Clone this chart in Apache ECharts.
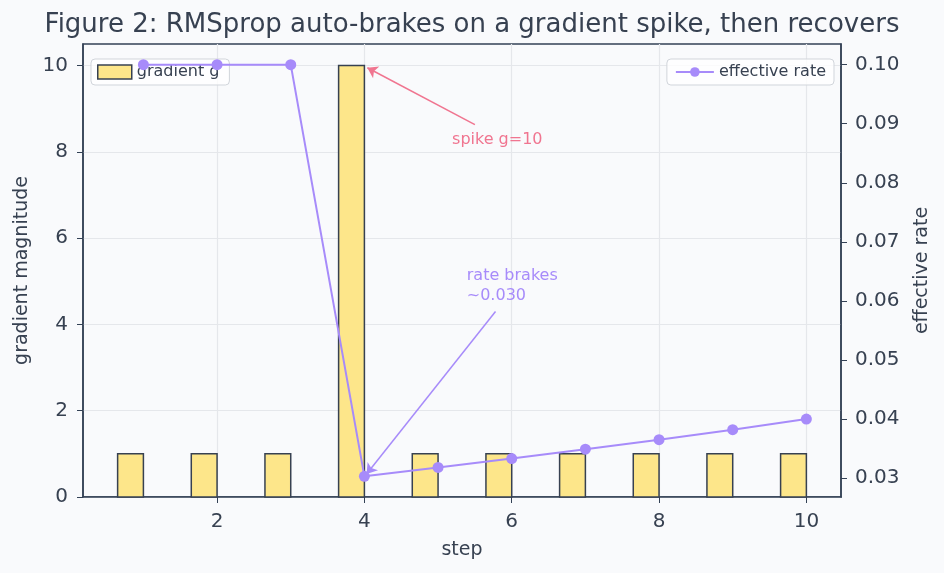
<!DOCTYPE html>
<html>
<head>
<meta charset="utf-8">
<script src="https://cdn.jsdelivr.net/npm/echarts@6/dist/echarts.min.js"></script>
<style>
  html, body { margin: 0; padding: 0; background: #f9fafc; }
  #chart { width: 944px; height: 573px; }
</style>
</head>
<body>
<div id="chart"></div>
<script>
// data
const steps = [1, 2, 3, 4, 5, 6, 7, 8, 9, 10]
const gradient = [1, 1, 1, 10, 1, 1, 1, 1, 1, 1]
const rate = [0.1, 0.1, 0.1, 0.0303, 0.0318, 0.0333, 0.0349, 0.0365, 0.0382, 0.04]
const xTicks = [2, 4, 6, 8, 10]
const gTicks = [0, 2, 4, 6, 8, 10]
const rateTicks = [0.03, 0.04, 0.05, 0.06, 0.07, 0.08, 0.09, 0.1]

const textColor = '#374151'
const axisColor = '#334155'
const gridColor = '#e5e7eb'
const barFill = '#fde68a'
const rateColor = '#a78bfa'
const spikeColor = '#f07590'
const font = 'DejaVu Sans'

const chart = echarts.init(document.getElementById('chart'))

const option = {
  backgroundColor: '#f9fafc',
  textStyle: { fontFamily: font, color: textColor },
  title: {
    text: 'Figure 2: RMSprop auto-brakes on a gradient spike, then recovers',
    left: 'center',
    top: 7,
    textStyle: { fontFamily: font, fontSize: 26, fontWeight: 'normal', color: textColor },
  },
  legend: [
    {
      left: 91, top: 59,
      padding: [5, 10, 5, 6],
      itemWidth: 34, itemHeight: 14, itemGap: 10,
      backgroundColor: 'rgba(255,255,255,0.8)',
      borderColor: '#d1d5db', borderWidth: 1, borderRadius: 4,
      textStyle: { fontFamily: font, fontSize: 16, color: textColor },
      data: [{ name: 'gradient g', icon: 'rect', itemStyle: { color: barFill, borderColor: textColor, borderWidth: 1.5 } }],
    },
    {
      right: 110, top: 59,
      padding: [5, 8, 5, 8],
      itemWidth: 38, itemHeight: 12,
      backgroundColor: 'rgba(255,255,255,0.8)',
      borderColor: '#d1d5db', borderWidth: 1, borderRadius: 4,
      textStyle: { fontFamily: font, fontSize: 16, color: textColor },
      data: ['effective rate'],
    },
  ],
  grid: { left: 83, right: 103, top: 44, bottom: 76, show: true, borderColor: axisColor, borderWidth: 1.5, backgroundColor: 'transparent' },
  xAxis: {
    type: 'value',
    min: 0.18,
    max: 10.47,
    name: 'step',
    nameLocation: 'middle',
    nameGap: 44,
    nameTextStyle: { fontSize: 19, color: textColor },
    axisLine: { lineStyle: { color: axisColor, width: 1.5 } },
    axisTick: { customValues: xTicks, length: 6, lineStyle: { color: axisColor } },
    axisLabel: { customValues: xTicks, fontSize: 20, color: textColor, margin: 15 },
    splitLine: { show: true, lineStyle: { color: gridColor, width: 1.2 } },
  },
  yAxis: [
    {
      type: 'value',
      min: 0,
      max: 10.5,
      name: 'gradient magnitude',
      nameLocation: 'middle',
      nameGap: 48,
      nameTextStyle: { fontSize: 19, color: textColor },
      axisLine: { show: true, lineStyle: { color: axisColor, width: 1.5 } },
      axisTick: { show: true, customValues: gTicks, length: 6, lineStyle: { color: axisColor } },
      axisLabel: { customValues: gTicks, fontSize: 20, color: textColor, margin: 15 },
      splitLine: { show: true, lineStyle: { color: gridColor, width: 1.2 } },
    },
    {
      type: 'value',
      position: 'right',
      min: 0.0268,
      max: 0.1035,
      name: 'effective rate',
      nameLocation: 'middle',
      nameGap: 72,
      nameRotate: 90,
      nameTextStyle: { fontSize: 19, color: textColor },
      axisLine: { show: true, lineStyle: { color: axisColor, width: 1.5 } },
      axisTick: { show: true, customValues: rateTicks, length: 6, lineStyle: { color: axisColor } },
      axisLabel: { customValues: rateTicks, fontSize: 20, color: textColor, margin: 14, formatter: v => v.toFixed(2) },
      splitLine: { show: false },
    },
  ],
  series: [
    {
      name: 'gradient g',
      type: 'custom',
      yAxisIndex: 0,
      data: steps.map((s, i) => [s, gradient[i]]),
      renderItem: (params, api) => {
        const x = api.value(0)
        const g = api.value(1)
        const p0 = api.coord([x - 0.35, g])
        const p1 = api.coord([x, 0])
        return {
          type: 'rect',
          shape: { x: p0[0], y: p0[1], width: p1[0] - p0[0], height: p1[1] - p0[1] },
          style: { fill: barFill, stroke: textColor, lineWidth: 1.5 },
        }
      },
      itemStyle: { color: barFill },
      z: 2,
    },
    {
      name: 'effective rate',
      type: 'line',
      yAxisIndex: 1,
      data: steps.map((s, i) => [s, rate[i]]),
      symbol: 'circle',
      symbolSize: 11,
      itemStyle: { color: rateColor },
      lineStyle: { color: rateColor, width: 2 },
      z: 5,
    },
    {
      // spike annotation (left axis units)
      type: 'scatter',
      yAxisIndex: 0,
      data: [],
      silent: true,
      markLine: {
        silent: true,
        symbol: ['none', 'arrow'],
        symbolSize: 10,
        lineStyle: { color: spikeColor, width: 1.5, type: 'solid' },
        label: { show: false },
        data: [[{ coord: [5.5, 8.63] }, { coord: [4.04, 9.95] }]],
      },
      markPoint: {
        silent: true,
        symbol: 'circle',
        symbolSize: 0,
        label: { show: true, position: 'right', distance: 0, color: spikeColor, fontSize: 16, fontFamily: font, formatter: 'spike g=10' },
        data: [{ coord: [5.19, 8.28] }],
      },
    },
    {
      // rate annotation (right axis units)
      type: 'scatter',
      yAxisIndex: 1,
      data: [],
      silent: true,
      markLine: {
        silent: true,
        symbol: ['none', 'arrow'],
        symbolSize: 10,
        lineStyle: { color: rateColor, width: 1.5, type: 'solid' },
        label: { show: false },
        data: [[{ coord: [5.78, 0.0582] }, { coord: [4.03, 0.0307] }]],
      },
      markPoint: {
        silent: true,
        symbol: 'circle',
        symbolSize: 0,
        label: { show: true, position: 'right', distance: 0, color: rateColor, fontSize: 16, fontFamily: font, lineHeight: 20, formatter: 'rate brakes\n~0.030' },
        data: [{ coord: [5.39, 0.0626] }],
      },
    },
  ],
}

chart.setOption(option)
</script>
</body>
</html>
